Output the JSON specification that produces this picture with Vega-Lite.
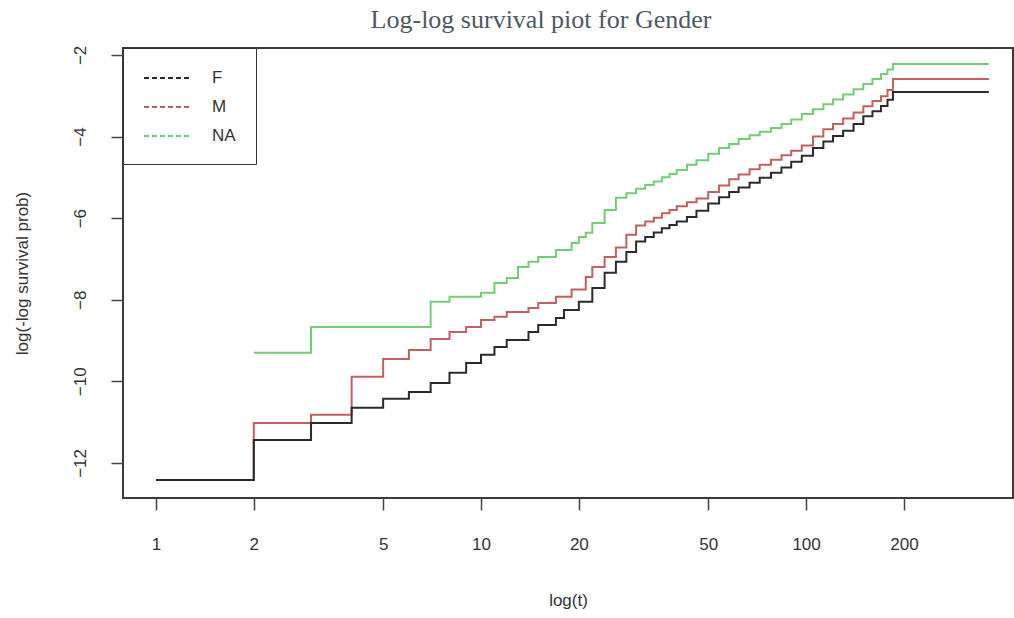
{
  "$schema": "https://vega.github.io/schema/vega-lite/v6.json",
  "width": 890,
  "height": 450,
  "autosize": {"type": "none"},
  "padding": {"left": 123, "top": 48, "right": 1, "bottom": 120},
  "background": "white",
  "title": {
    "text": "Log-log survival piot for Gender",
    "font": "Liberation Serif",
    "fontSize": 26,
    "fontWeight": "normal",
    "color": "#4f5962",
    "anchor": "middle",
    "frame": "group",
    "dx": -27,
    "dy": 29,
    "baseline": "alphabetic",
    "offset": 20
  },
  "data": {
    "values": [
      {"g": "M", "t": 1, "v": -12.42}, {"g": "M", "t": 2, "v": -11.02}, {"g": "M", "t": 3, "v": -10.82}, {"g": "M", "t": 4, "v": -9.89},
      {"g": "M", "t": 5, "v": -9.45}, {"g": "M", "t": 6, "v": -9.23}, {"g": "M", "t": 7, "v": -8.96}, {"g": "M", "t": 8, "v": -8.79},
      {"g": "M", "t": 9, "v": -8.67}, {"g": "M", "t": 10, "v": -8.5}, {"g": "M", "t": 11, "v": -8.42}, {"g": "M", "t": 12, "v": -8.3},
      {"g": "M", "t": 14, "v": -8.2}, {"g": "M", "t": 15, "v": -8.08}, {"g": "M", "t": 17, "v": -7.93}, {"g": "M", "t": 19, "v": -7.75},
      {"g": "M", "t": 21, "v": -7.44}, {"g": "M", "t": 22, "v": -7.2}, {"g": "M", "t": 24, "v": -6.95}, {"g": "M", "t": 26, "v": -6.72},
      {"g": "M", "t": 28, "v": -6.41}, {"g": "M", "t": 30, "v": -6.18}, {"g": "M", "t": 32, "v": -6.08}, {"g": "M", "t": 34, "v": -5.99},
      {"g": "M", "t": 36, "v": -5.88}, {"g": "M", "t": 38, "v": -5.8}, {"g": "M", "t": 40, "v": -5.71}, {"g": "M", "t": 43, "v": -5.61},
      {"g": "M", "t": 46, "v": -5.52}, {"g": "M", "t": 50, "v": -5.36}, {"g": "M", "t": 54, "v": -5.2}, {"g": "M", "t": 58, "v": -5.05},
      {"g": "M", "t": 62, "v": -4.93}, {"g": "M", "t": 67, "v": -4.8}, {"g": "M", "t": 72, "v": -4.69}, {"g": "M", "t": 78, "v": -4.57},
      {"g": "M", "t": 84, "v": -4.46}, {"g": "M", "t": 90, "v": -4.35}, {"g": "M", "t": 97, "v": -4.22}, {"g": "M", "t": 105, "v": -4.0},
      {"g": "M", "t": 113, "v": -3.82}, {"g": "M", "t": 121, "v": -3.69}, {"g": "M", "t": 130, "v": -3.56}, {"g": "M", "t": 140, "v": -3.41},
      {"g": "M", "t": 150, "v": -3.26}, {"g": "M", "t": 160, "v": -3.13}, {"g": "M", "t": 170, "v": -3.01}, {"g": "M", "t": 178, "v": -2.86},
      {"g": "M", "t": 185, "v": -2.59}, {"g": "M", "t": 365, "v": -2.59},

      {"g": "F", "t": 1, "v": -12.42}, {"g": "F", "t": 2, "v": -11.44}, {"g": "F", "t": 3, "v": -11.02}, {"g": "F", "t": 4, "v": -10.65},
      {"g": "F", "t": 5, "v": -10.43}, {"g": "F", "t": 6, "v": -10.26}, {"g": "F", "t": 7, "v": -10.04}, {"g": "F", "t": 8, "v": -9.79},
      {"g": "F", "t": 9, "v": -9.55}, {"g": "F", "t": 10, "v": -9.35}, {"g": "F", "t": 11, "v": -9.16}, {"g": "F", "t": 12, "v": -8.99},
      {"g": "F", "t": 14, "v": -8.79}, {"g": "F", "t": 15, "v": -8.62}, {"g": "F", "t": 17, "v": -8.45}, {"g": "F", "t": 18, "v": -8.25},
      {"g": "F", "t": 20, "v": -8.05}, {"g": "F", "t": 22, "v": -7.71}, {"g": "F", "t": 24, "v": -7.34}, {"g": "F", "t": 26, "v": -7.07},
      {"g": "F", "t": 28, "v": -6.83}, {"g": "F", "t": 30, "v": -6.57}, {"g": "F", "t": 32, "v": -6.46}, {"g": "F", "t": 34, "v": -6.35},
      {"g": "F", "t": 36, "v": -6.25}, {"g": "F", "t": 38, "v": -6.17}, {"g": "F", "t": 40, "v": -6.08}, {"g": "F", "t": 43, "v": -5.97},
      {"g": "F", "t": 46, "v": -5.82}, {"g": "F", "t": 50, "v": -5.64}, {"g": "F", "t": 54, "v": -5.49}, {"g": "F", "t": 58, "v": -5.36},
      {"g": "F", "t": 62, "v": -5.25}, {"g": "F", "t": 67, "v": -5.13}, {"g": "F", "t": 72, "v": -5.01}, {"g": "F", "t": 78, "v": -4.89},
      {"g": "F", "t": 84, "v": -4.76}, {"g": "F", "t": 90, "v": -4.62}, {"g": "F", "t": 97, "v": -4.47}, {"g": "F", "t": 105, "v": -4.28},
      {"g": "F", "t": 113, "v": -4.12}, {"g": "F", "t": 121, "v": -3.99}, {"g": "F", "t": 130, "v": -3.86}, {"g": "F", "t": 140, "v": -3.69},
      {"g": "F", "t": 150, "v": -3.5}, {"g": "F", "t": 160, "v": -3.38}, {"g": "F", "t": 170, "v": -3.25}, {"g": "F", "t": 178, "v": -3.1},
      {"g": "F", "t": 185, "v": -2.91}, {"g": "F", "t": 365, "v": -2.91},

      {"g": "NA", "t": 2, "v": -9.3}, {"g": "NA", "t": 3, "v": -8.67}, {"g": "NA", "t": 7, "v": -8.05}, {"g": "NA", "t": 8, "v": -7.93},
      {"g": "NA", "t": 10, "v": -7.83}, {"g": "NA", "t": 11, "v": -7.59}, {"g": "NA", "t": 12, "v": -7.47}, {"g": "NA", "t": 13, "v": -7.2},
      {"g": "NA", "t": 14, "v": -7.07}, {"g": "NA", "t": 15, "v": -6.95}, {"g": "NA", "t": 17, "v": -6.78}, {"g": "NA", "t": 19, "v": -6.61},
      {"g": "NA", "t": 20, "v": -6.46}, {"g": "NA", "t": 21, "v": -6.36}, {"g": "NA", "t": 22, "v": -6.12}, {"g": "NA", "t": 24, "v": -5.8},
      {"g": "NA", "t": 26, "v": -5.5}, {"g": "NA", "t": 28, "v": -5.39}, {"g": "NA", "t": 30, "v": -5.28}, {"g": "NA", "t": 32, "v": -5.19},
      {"g": "NA", "t": 34, "v": -5.1}, {"g": "NA", "t": 36, "v": -5.0}, {"g": "NA", "t": 38, "v": -4.92}, {"g": "NA", "t": 40, "v": -4.82},
      {"g": "NA", "t": 43, "v": -4.69}, {"g": "NA", "t": 46, "v": -4.58}, {"g": "NA", "t": 50, "v": -4.42}, {"g": "NA", "t": 54, "v": -4.28},
      {"g": "NA", "t": 58, "v": -4.18}, {"g": "NA", "t": 62, "v": -4.06}, {"g": "NA", "t": 67, "v": -3.97}, {"g": "NA", "t": 72, "v": -3.88},
      {"g": "NA", "t": 78, "v": -3.79}, {"g": "NA", "t": 84, "v": -3.69}, {"g": "NA", "t": 90, "v": -3.58}, {"g": "NA", "t": 97, "v": -3.45},
      {"g": "NA", "t": 105, "v": -3.33}, {"g": "NA", "t": 113, "v": -3.21}, {"g": "NA", "t": 121, "v": -3.09}, {"g": "NA", "t": 130, "v": -2.97},
      {"g": "NA", "t": 140, "v": -2.84}, {"g": "NA", "t": 150, "v": -2.71}, {"g": "NA", "t": 160, "v": -2.59}, {"g": "NA", "t": 170, "v": -2.47},
      {"g": "NA", "t": 178, "v": -2.36}, {"g": "NA", "t": 185, "v": -2.22}, {"g": "NA", "t": 365, "v": -2.22}
    ]
  },
  "mark": {"type": "line", "interpolate": "step-after", "strokeWidth": 2},
  "encoding": {
    "x": {
      "field": "t",
      "type": "quantitative",
      "scale": {"type": "log", "domain": [0.792, 433], "nice": false},
      "axis": {
        "values": [1, 2, 5, 10, 20, 50, 100, 200],
        "format": "d",
        "title": "log(t)",
        "labelPadding": 26,
        "labelBaseline": "top",
        "titlePadding": 40
      }
    },
    "y": {
      "field": "v",
      "type": "quantitative",
      "scale": {"domain": [-12.86, -1.83], "nice": false, "zero": false},
      "axis": {
        "values": [-12, -10, -8, -6, -4, -2],
        "format": "d",
        "title": "log(-log survival prob)",
        "labelAngle": -90,
        "labelAlign": "center",
        "labelBaseline": "bottom",
        "labelPadding": 22,
        "titlePadding": 40
      }
    },
    "color": {
      "field": "g",
      "type": "nominal",
      "scale": {"domain": ["F", "M", "NA"], "range": ["#2b2b2b", "#c0605f", "#74cc74"]},
      "legend": {
        "title": null,
        "orient": "top-left",
        "offset": 0,
        "padding": 20,
        "strokeColor": "#333333",
        "fillColor": "white",
        "symbolType": "M-1,0H4",
        "symbolSize": 324,
        "symbolStrokeWidth": 2,
        "symbolDash": [5, 3],
        "labelOffset": 49,
        "labelFont": "Liberation Sans",
        "labelFontSize": 17,
        "labelColor": "#333333",
        "rowPadding": 11
      }
    }
  },
  "config": {
    "view": {"stroke": "#3a3a3a", "strokeWidth": 2},
    "axis": {
      "domain": false,
      "grid": false,
      "ticks": true,
      "tickColor": "#444444",
      "tickSize": 12,
      "tickWidth": 1.5,
      "labelFont": "Liberation Sans",
      "labelFontSize": 17,
      "labelColor": "#333333",
      "titleFont": "Liberation Sans",
      "titleFontSize": 17,
      "titleFontWeight": "normal",
      "titleColor": "#333333"
    }
  }
}
